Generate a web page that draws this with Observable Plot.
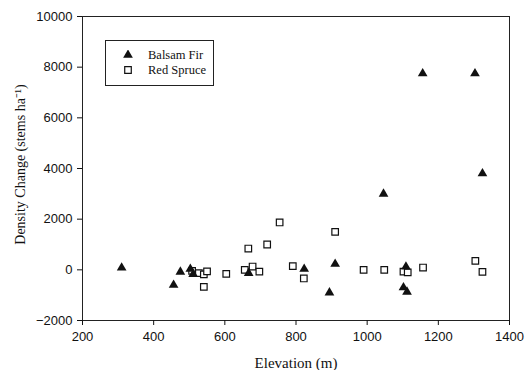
<!DOCTYPE html>
<html><head><meta charset="utf-8">
<script src="https://cdn.jsdelivr.net/npm/d3@7"></script>
<script src="https://cdn.jsdelivr.net/npm/@observablehq/plot@0.6"></script>
<style>
body{margin:0;background:#fff;}
#wrap{position:relative;width:528px;height:370px;}
#legend{position:absolute;left:105px;top:40px;width:109px;height:46px;border:1px solid #222;box-sizing:border-box;font-family:"Liberation Serif","Times New Roman",serif;font-size:12.5px;color:#111;background:#fff;}
#legend .row{position:absolute;left:0;display:flex;align-items:center;height:12px;white-space:nowrap;}
#legend .row span{line-height:11px;display:inline-block;}
#legend svg{margin-left:17px;margin-right:15px;}
</style></head><body><div id="wrap"></div>
<script>
// Balsam Fir
const firElev   = [310, 456, 475, 503, 511, 667, 823, 894, 910, 1046, 1102, 1109, 1112, 1156, 1303, 1324];
const firChange = [80, -600, -80, 30, -170, -130, 30, -900, 230, 3000, -700, 120, -870, 7750, 7750, 3800];
// Red Spruce
const spruceElev   = [508, 527, 541, 550, 541, 604, 656, 666, 678, 697, 719, 754, 791, 822, 910, 990, 1048, 1102, 1114, 1157, 1304, 1324];
const spruceChange = [-40, -130, -180, -60, -670, -160, 0, 840, 130, -70, 1000, 1870, 145, -340, 1500, 0, 0, -70, -100, 90, 355, -80];

const xTicks = [200, 400, 600, 800, 1000, 1200, 1400];
const yTicks = [-2000, 0, 2000, 4000, 6000, 8000, 10000];
const seriesNames = ["Balsam Fir", "Red Spruce"];
const xLabel = "Elevation (m)";
const yLabel = "Density Change (stems ha\u207B\u00B9)";

const fir = firElev.map((e, i) => ({elev: e, change: firChange[i]}));
const spruce = spruceElev.map((e, i) => ({elev: e, change: spruceChange[i]}));

const serif = "'Liberation Serif','Times New Roman',serif";

const chart = Plot.plot({
  width: 528,
  height: 370,
  marginLeft: 82,
  marginRight: 19,
  marginTop: 16,
  marginBottom: 50,
  style: {fontFamily: "'Liberation Sans',Arial,sans-serif", fontSize: "13px", color: "#111", background: "#fff"},
  x: {domain: [200, 1400]},
  y: {domain: [-2000, 10000]},
  marks: [
    Plot.frame({stroke: "#222", strokeWidth: 1}),
    Plot.axisX({ticks: xTicks, tickSize: 5, tickPadding: 6, tickFormat: "d", label: null, fontSize: 13}),
    Plot.axisY({ticks: yTicks, tickSize: 5, tickPadding: 5, tickFormat: "d", label: null, fontSize: 13}),
    Plot.dot(spruce, {x: "elev", y: "change", symbol: "square", r: 3.7, fill: "white", stroke: "#111", strokeWidth: 1.2}),
    Plot.dot(fir, {x: "elev", y: "change", symbol: "triangle", r: 3.6, fill: "#111", stroke: "none"}),
    Plot.text([xLabel], {frameAnchor: "bottom", textAnchor: "middle", dy: 47, fontFamily: serif, fontSize: 15, fill: "#111"}),
    Plot.text([yLabel], {frameAnchor: "left", textAnchor: "middle", rotate: -90, dx: -62, dy: -4, fontFamily: serif, fontSize: 14, fill: "#111"})
  ]
});
const wrap = document.getElementById("wrap");
wrap.appendChild(chart);

// legend
const legend = document.createElement("div");
legend.id = "legend";
const tri = d3.symbol(d3.symbolTriangle, Math.PI * 3.6 * 3.6)();
const sq = d3.symbol(d3.symbolSquare, Math.PI * 3.7 * 3.7)();
const rows = [
  {name: seriesNames[0], svg: `<svg width="10" height="10" viewBox="-5 -5 10 10"><path d="${tri}" fill="#111"/></svg>`, top: 8},
  {name: seriesNames[1], svg: `<svg width="10" height="10" viewBox="-5 -5 10 10"><path d="${sq}" fill="#fff" stroke="#111" stroke-width="1.2"/></svg>`, top: 23}
];
rows.forEach(r => {
  const d = document.createElement("div");
  d.className = "row";
  d.style.top = r.top + "px";
  d.innerHTML = r.svg + `<span>${r.name}</span>`;
  legend.appendChild(d);
});
wrap.appendChild(legend);
</script>
</body></html>
